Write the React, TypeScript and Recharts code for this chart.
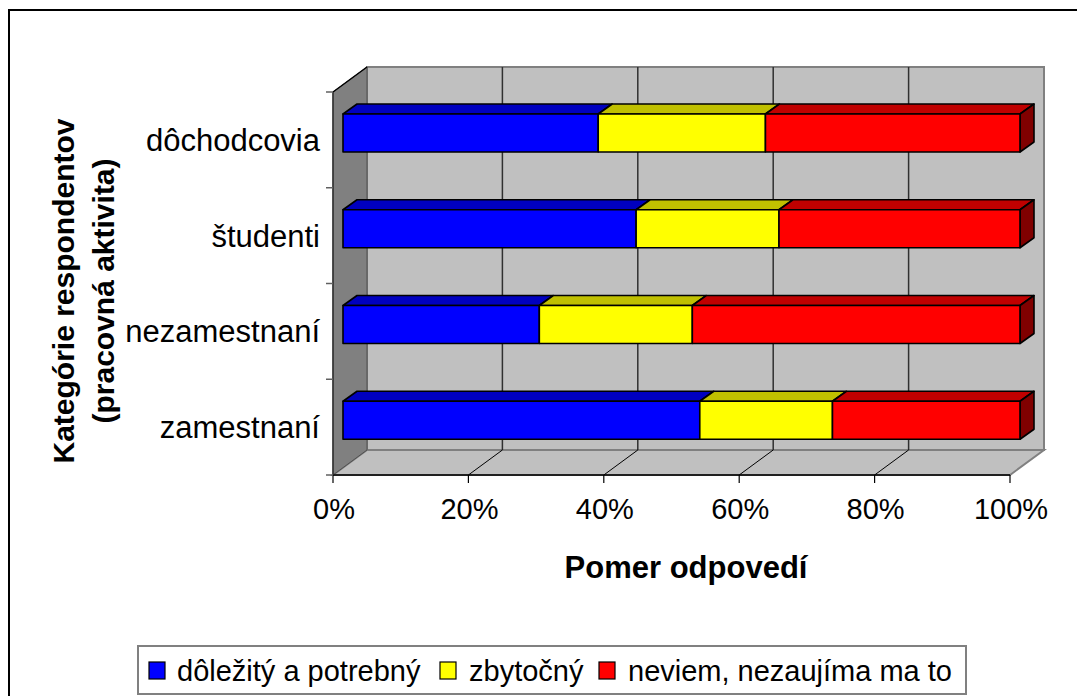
import React from 'react';
import * as R from 'recharts';

const { BarChart, Bar, XAxis, YAxis, Legend } = R as any;

// kategórie respondentov (zhora nadol)
const categories = ['dôchodcovia', 'študenti', 'nezamestnaní', 'zamestnaní'];
const seriesNames = ['dôležitý a potrebný', 'zbytočný', 'neviem, nezaujíma ma to'];
const important = [37.7, 43.3, 29.0, 52.7];
const useless = [24.7, 21.1, 22.6, 19.6];
const dontKnow = [37.6, 35.6, 48.4, 27.7];
const xTicks = [0, 20, 40, 60, 80, 100];

const data = categories.map((name, i) => ({
    name,
    important: important[i],
    useless: useless[i],
    dontKnow: dontKnow[i],
}));

const FONT = '"Liberation Sans", Arial, sans-serif';
const W = 1077;
const H = 688;
const MARGIN = { top: 84, right: 75, bottom: 161, left: 0 };
const Y_AXIS_W = 325;
const X_AXIS_H = 60;

// 3D hĺbka: zadná stena a poloha stĺpcov
const DX = 34;
const DY = -25;
const BAR_SHIFT = { x: 10, y: -7 };
const BAR_DEPTH = { x: 14, y: -10 };

const FACES = [
    { fill: '#0000FF', top: '#0000C0', side: '#000080' },
    { fill: '#FFFF00', top: '#C0C000', side: '#808000' },
    { fill: '#FF0000', top: '#C00000', side: '#800000' },
];

const usePlotAreaSafe: () => any = (R as any).usePlotArea ?? (() => null);

function Walls() {
    const area = usePlotAreaSafe() ?? {
        x: MARGIN.left + Y_AXIS_W,
        y: MARGIN.top,
        width: W - MARGIN.left - Y_AXIS_W - MARGIN.right,
        height: H - MARGIN.top - MARGIN.bottom - X_AXIS_H,
    };
    const { x, y, width: w, height: h } = area;
    const bx = x + DX;
    const by = y + DY;
    const inner = xTicks.slice(1, -1);
    return (
        <g>
            <rect x={bx} y={by} width={w} height={h} fill="#C0C0C0" stroke="#808080" strokeWidth={2} />
            <polygon
                points={`${x},${y + h} ${x + w},${y + h} ${bx + w},${by + h} ${bx},${by + h}`}
                fill="#C0C0C0"
                stroke="#808080"
                strokeWidth={2}
            />
            {inner.map((t) => {
                const gx = bx + (w * t) / 100;
                const fx = x + (w * t) / 100;
                return (
                    <g key={t}>
                        <line x1={gx} y1={by} x2={gx} y2={by + h} stroke="#303030" strokeWidth={1.5} />
                        <line x1={fx} y1={y + h} x2={gx} y2={by + h} stroke="#000" strokeWidth={1} />
                    </g>
                );
            })}
            <polygon
                points={`${x},${y} ${bx},${by} ${bx},${by + h} ${x},${y + h}`}
                fill="#808080"
                stroke="#505050"
                strokeWidth={1}
            />
            <line x1={x} y1={y} x2={bx} y2={by} stroke="#000" strokeWidth={1.5} />
        </g>
    );
}

function Box3D(props: any) {
    const { x, y, width, height, face, last } = props;
    if (width == null || height == null) return null;
    const fx = x + BAR_SHIFT.x;
    const fy = y + BAR_SHIFT.y;
    const dx = BAR_DEPTH.x;
    const dy = BAR_DEPTH.y;
    return (
        <g stroke="#000" strokeWidth={1.6} strokeLinejoin="round">
            <polygon
                points={`${fx},${fy} ${fx + dx},${fy + dy} ${fx + width + dx},${fy + dy} ${fx + width},${fy}`}
                fill={face.top}
            />
            {last && (
                <polygon
                    points={`${fx + width},${fy} ${fx + width + dx},${fy + dy} ${fx + width + dx},${fy + height + dy} ${fx + width},${fy + height}`}
                    fill={face.side}
                />
            )}
            <rect x={fx} y={fy} width={width} height={height} fill={face.fill} />
        </g>
    );
}

function XTick(props: any) {
    const { x, y, payload } = props;
    return (
        <text x={x + 1} y={y + 34} textAnchor="middle" fontSize={29} fontFamily={FONT} fill="#000">
            {`${payload.value}%`}
        </text>
    );
}

function YTick(props: any) {
    const { x, y, payload, index } = props;
    const plotH = H - MARGIN.top - MARGIN.bottom - X_AXIS_H;
    const band = plotH / categories.length;
    return (
        <g>
            <line x1={x - 7} y1={y - band / 2} x2={x} y2={y - band / 2} stroke="#606060" strokeWidth={1.5} />
            {index === categories.length - 1 && (
                <line x1={x - 7} y1={y + band / 2} x2={x} y2={y + band / 2} stroke="#606060" strokeWidth={1.5} />
            )}
            <text x={x - 13} y={y + 11} textAnchor="end" fontSize={31} fontFamily={FONT} fill="#000">
                {payload.value}
            </text>
        </g>
    );
}

// poloha položiek legendy v rámčeku
const LEG_MARK_X = [12, 303, 462];
const LEG_TEXT_X = [40, 332, 491];

function LegendBox(props: any) {
    const payload = props.payload ?? [];
    const items = seriesNames.map((name) => payload.find((e: any) => e.value === name)).filter(Boolean);
    return (
        <svg width={830} height={50} style={{ display: 'block' }}>
            <rect x={1} y={1} width={828} height={48} fill="#fff" stroke="#808080" strokeWidth={2} />
            {items.map((entry: any, i: number) => (
                <g key={entry.value}>
                    <rect x={LEG_MARK_X[i]} y={17} width={16} height={17} fill={entry.color} stroke="#000" strokeWidth={1.2} />
                    <text x={LEG_TEXT_X[i]} y={36} fontSize={29} fontFamily={FONT} fill="#000">
                        {entry.value}
                    </text>
                </g>
            ))}
        </svg>
    );
}

export default function App() {
    const keys = ['important', 'useless', 'dontKnow'];
    return (
        <div style={{ position: 'relative', width: W, height: H, overflow: 'hidden', fontFamily: FONT }}>
            <style>{'body{overflow:hidden}'}</style>
            <BarChart
                width={W}
                height={H}
                data={data}
                layout="vertical"
                margin={MARGIN}
                barSize={38}
            >
                <Walls />
                <XAxis
                    type="number"
                    domain={[0, 100]}
                    ticks={xTicks}
                    height={X_AXIS_H}
                    tickSize={8}
                    tickMargin={2}
                    axisLine={{ stroke: '#000', strokeWidth: 1.5 }}
                    tickLine={{ stroke: '#000', strokeWidth: 1.2 }}
                    tick={<XTick />}
                    interval={0}
                />
                <YAxis
                    type="category"
                    dataKey="name"
                    width={Y_AXIS_W}
                    tickSize={0}
                    tickMargin={0}
                    axisLine={{ stroke: '#303030', strokeWidth: 1.5 }}
                    tickLine={false}
                    tick={<YTick />}
                    interval={0}
                />
                {keys.map((k, i) => (
                    <Bar
                        key={k}
                        dataKey={k}
                        name={seriesNames[i]}
                        stackId="a"
                        fill={FACES[i].fill}
                        isAnimationActive={false}
                        shape={(p: any) => <Box3D {...p} face={FACES[i]} last={i === keys.length - 1} />}
                    />
                ))}
                <Legend
                    layout="horizontal"
                    verticalAlign="middle"
                    align="center"
                    wrapperStyle={{ left: 129, top: 637, width: 830, height: 50 }}
                    content={<LegendBox />}
                />
            </BarChart>
            <svg
                width={W}
                height={H}
                style={{ position: 'absolute', left: 0, top: 0, pointerEvents: 'none' }}
            >
                <text
                    transform="rotate(-90 66 283)"
                    x={66}
                    y={283}
                    textAnchor="middle"
                    fontSize={30}
                    fontWeight="bold"
                    fontFamily={FONT}
                >
                    Kategórie respondentov
                </text>
                <text
                    transform="rotate(-90 106 283)"
                    x={106}
                    y={283}
                    textAnchor="middle"
                    fontSize={30}
                    fontWeight="bold"
                    fontFamily={FONT}
                >
                    (pracovná aktivita)
                </text>
                <text x={678} y={570} textAnchor="middle" fontSize={31} fontWeight="bold" fontFamily={FONT}>
                    Pomer odpovedí
                </text>
            </svg>
            <div
                style={{
                    position: 'absolute',
                    left: 0,
                    top: 1,
                    width: W + 20,
                    height: H + 20,
                    borderTop: '2px solid #000',
                    borderLeft: '2px solid #000',
                    pointerEvents: 'none',
                }}
            />
        </div>
    );
}
